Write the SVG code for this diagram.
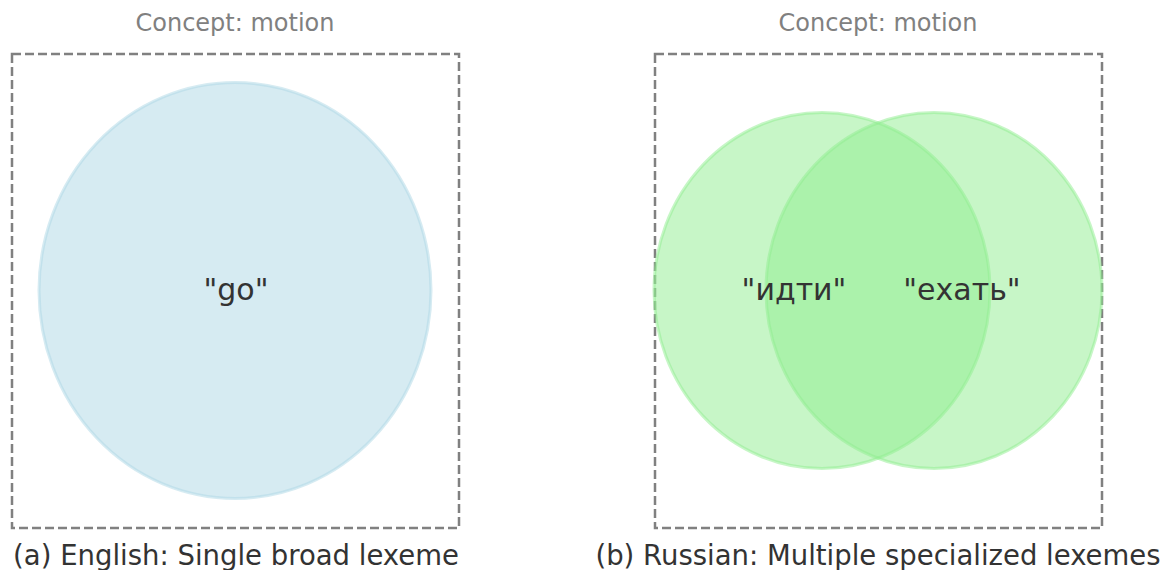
<svg xmlns="http://www.w3.org/2000/svg" width="1163" height="570" viewBox="0 0 1163 570">
  <style>
    text { font-family: "DejaVu Sans", "Liberation Sans", sans-serif; }
    .concept { font-size: 24px; fill: #808080; text-anchor: middle; }
    .frame { fill: none; stroke: #808080; stroke-width: 2.5; stroke-dasharray: 9 4; }
    .word { font-size: 30px; fill: #333333; text-anchor: middle; }
    .caption { font-size: 27.5px; fill: #333333; text-anchor: middle; }
    .blue { fill: #add8e6; fill-opacity: 0.5; stroke: #add8e6; stroke-opacity: 0.5; stroke-width: 3; }
    .green { fill: #90ee90; fill-opacity: 0.5; stroke: #90ee90; stroke-opacity: 0.5; stroke-width: 3; }
  </style>
  <rect width="1163" height="570" fill="#ffffff"/>

  <!-- Panel (a): English -->
  <g id="panel-english">
    <text class="concept" x="235" y="31">Concept: motion</text>
    <rect class="frame" x="12" y="54" width="447" height="474"/>
    <g id="node-go">
      <ellipse class="blue" cx="235" cy="290.5" rx="196" ry="208"/>
      <text class="word" x="236" y="300">"go"</text>
    </g>
    <text class="caption" x="236" y="565">(a) English: Single broad lexeme</text>
  </g>

  <!-- Panel (b): Russian -->
  <g id="panel-russian">
    <text class="concept" x="878" y="31">Concept: motion</text>
    <rect class="frame" x="655" y="54" width="447" height="474"/>
    <g id="node-idti">
      <ellipse class="green" cx="822" cy="290.5" rx="168" ry="178"/>
    </g>
    <g id="node-ekhat">
      <ellipse class="green" cx="934" cy="290.5" rx="168" ry="178"/>
    </g>
    <!-- labels drawn above both circles so neither fill tints them -->
    <text class="word" x="794" y="300">"идти"</text>
    <text class="word" x="962" y="300">"ехать"</text>
    <text class="caption" x="878" y="565">(b) Russian: Multiple specialized lexemes</text>
  </g>

  <g id="connectors"></g>
</svg>
